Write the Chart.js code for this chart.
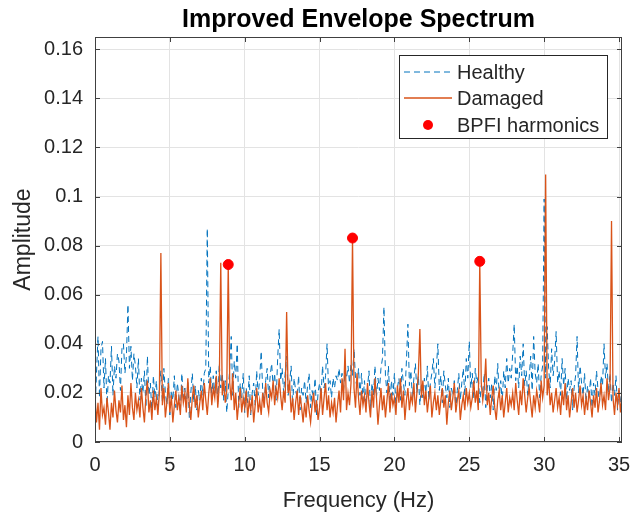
<!DOCTYPE html>
<html>
<head>
<meta charset="utf-8">
<script src="https://cdn.jsdelivr.net/npm/chart.js@4"></script>
<style>
  html, body { margin: 0; padding: 0; background: #fff; }
  canvas { display: block; }
</style>
</head>
<body>
<canvas id="c" width="643" height="514"></canvas>
<script>
// spectrum, one value every 0.1 Hz (0 .. 35.2 Hz)
const freqStep = 0.1;

const healthy = [
  0.012, 0.028, 0.043, 0.018, 0.038, 0.041, 0.022, 0.034, 0.015, 0.027, // 0
  0.024, 0.039, 0.019, 0.031, 0.026, 0.036, 0.033, 0.021, 0.038, 0.040, // 1
  0.028, 0.035, 0.056, 0.030, 0.039, 0.025, 0.036, 0.031, 0.022, 0.034, // 2
  0.017, 0.026, 0.020, 0.029, 0.014, 0.035, 0.019, 0.024, 0.012, 0.027, // 3
  0.018, 0.025, 0.013, 0.022, 0.029, 0.016, 0.030, 0.020, 0.015, 0.026, // 4
  0.011, 0.021, 0.017, 0.027, 0.014, 0.024, 0.019, 0.012, 0.028, 0.018, // 5
  0.022, 0.014, 0.025, 0.010, 0.020, 0.028, 0.016, 0.023, 0.013, 0.021, // 6
  0.017, 0.026, 0.019, 0.028, 0.030, 0.087, 0.024, 0.031, 0.018, 0.027, // 7
  0.020, 0.029, 0.015, 0.032, 0.022, 0.028, 0.017, 0.025, 0.012, 0.021, // 8
  0.030, 0.043, 0.019, 0.033, 0.026, 0.040, 0.014, 0.024, 0.018, 0.028, // 9
  0.012, 0.022, 0.016, 0.027, 0.011, 0.020, 0.024, 0.015, 0.029, 0.019, // 10
  0.026, 0.037, 0.021, 0.016, 0.025, 0.030, 0.018, 0.027, 0.032, 0.022, // 11
  0.028, 0.017, 0.034, 0.046, 0.025, 0.030, 0.020, 0.028, 0.035, 0.019, // 12
  0.024, 0.031, 0.015, 0.026, 0.021, 0.018, 0.027, 0.013, 0.022, 0.019, // 13
  0.025, 0.016, 0.023, 0.028, 0.014, 0.021, 0.018, 0.026, 0.011, 0.020, // 14
  0.024, 0.019, 0.031, 0.022, 0.027, 0.040, 0.021, 0.025, 0.018, 0.026, // 15
  0.022, 0.027, 0.025, 0.030, 0.024, 0.028, 0.021, 0.029, 0.026, 0.031, // 16
  0.024, 0.032, 0.027, 0.038, 0.026, 0.022, 0.030, 0.019, 0.028, 0.017, // 17
  0.025, 0.015, 0.022, 0.029, 0.013, 0.024, 0.019, 0.031, 0.018, 0.026, // 18
  0.021, 0.030, 0.034, 0.055, 0.027, 0.020, 0.031, 0.016, 0.025, 0.019, // 19
  0.028, 0.014, 0.022, 0.026, 0.017, 0.030, 0.024, 0.019, 0.033, 0.048, // 20
  0.023, 0.029, 0.018, 0.026, 0.032, 0.020, 0.027, 0.015, 0.024, 0.018, // 21
  0.026, 0.020, 0.031, 0.017, 0.024, 0.028, 0.034, 0.022, 0.030, 0.040, // 22
  0.021, 0.027, 0.016, 0.029, 0.023, 0.018, 0.026, 0.014, 0.022, 0.019, // 23
  0.025, 0.013, 0.021, 0.028, 0.017, 0.024, 0.030, 0.019, 0.034, 0.026, // 24
  0.041, 0.022, 0.028, 0.018, 0.030, 0.024, 0.027, 0.016, 0.023, 0.020, // 25
  0.028, 0.014, 0.022, 0.026, 0.018, 0.024, 0.013, 0.027, 0.021, 0.032, // 26
  0.018, 0.025, 0.016, 0.029, 0.022, 0.034, 0.024, 0.030, 0.026, 0.036, // 27
  0.048, 0.025, 0.031, 0.022, 0.035, 0.027, 0.040, 0.023, 0.029, 0.019, // 28
  0.026, 0.035, 0.021, 0.043, 0.028, 0.024, 0.032, 0.018, 0.027, 0.031, // 29
  0.099, 0.026, 0.047, 0.030, 0.022, 0.038, 0.027, 0.033, 0.045, 0.024, // 30
  0.029, 0.019, 0.034, 0.023, 0.030, 0.017, 0.026, 0.021, 0.025, 0.013, // 31
  0.022, 0.027, 0.043, 0.020, 0.031, 0.024, 0.019, 0.028, 0.016, 0.023, // 32
  0.018, 0.026, 0.014, 0.024, 0.019, 0.029, 0.021, 0.016, 0.027, 0.023, // 33
  0.040, 0.026, 0.032, 0.020, 0.028, 0.016, 0.024, 0.019, 0.027, 0.013, // 34
  0.021, 0.017, 0.012                                                   // 35
];

const damaged = [
  0.019, 0.008, 0.016, 0.005, 0.022, 0.011, 0.014, 0.007, 0.018, 0.012, // 0
  0.005, 0.016, 0.010, 0.021, 0.013, 0.008, 0.017, 0.012, 0.023, 0.009, // 1
  0.015, 0.006, 0.019, 0.011, 0.024, 0.014, 0.009, 0.020, 0.013, 0.017, // 2
  0.010, 0.022, 0.014, 0.008, 0.019, 0.025, 0.012, 0.017, 0.009, 0.021, // 3
  0.013, 0.018, 0.011, 0.020, 0.077, 0.015, 0.022, 0.010, 0.016, 0.024, // 4
  0.012, 0.019, 0.008, 0.015, 0.021, 0.013, 0.018, 0.011, 0.023, 0.016, // 5
  0.020, 0.012, 0.026, 0.015, 0.009, 0.018, 0.023, 0.014, 0.019, 0.010, // 6
  0.016, 0.021, 0.013, 0.024, 0.017, 0.011, 0.020, 0.026, 0.015, 0.022, // 7
  0.018, 0.027, 0.014, 0.023, 0.073, 0.019, 0.025, 0.016, 0.021, 0.0723, // 8
  0.024, 0.017, 0.028, 0.013, 0.020, 0.009, 0.016, 0.022, 0.012, 0.018, // 9
  0.014, 0.021, 0.010, 0.017, 0.013, 0.019, 0.008, 0.015, 0.022, 0.012, // 10
  0.017, 0.011, 0.020, 0.014, 0.024, 0.016, 0.012, 0.021, 0.018, 0.025, // 11
  0.015, 0.022, 0.018, 0.026, 0.019, 0.013, 0.021, 0.016, 0.053, 0.020, // 12
  0.024, 0.012, 0.018, 0.009, 0.016, 0.021, 0.011, 0.019, 0.014, 0.008, // 13
  0.016, 0.010, 0.019, 0.013, 0.008, 0.015, 0.020, 0.012, 0.017, 0.009, // 14
  0.014, 0.022, 0.011, 0.018, 0.024, 0.013, 0.019, 0.010, 0.016, 0.012, // 15
  0.018, 0.008, 0.015, 0.021, 0.012, 0.026, 0.017, 0.038, 0.013, 0.020, // 16
  0.015, 0.024, 0.0831, 0.022, 0.014, 0.028, 0.018, 0.011, 0.021, 0.015, // 17
  0.019, 0.012, 0.024, 0.016, 0.010, 0.021, 0.014, 0.026, 0.018, 0.007, // 18
  0.015, 0.022, 0.013, 0.019, 0.010, 0.017, 0.024, 0.012, 0.020, 0.015, // 19
  0.018, 0.011, 0.023, 0.016, 0.026, 0.014, 0.021, 0.009, 0.017, 0.022, // 20
  0.013, 0.019, 0.016, 0.024, 0.012, 0.020, 0.028, 0.046, 0.018, 0.025, // 21
  0.015, 0.021, 0.012, 0.018, 0.023, 0.010, 0.016, 0.020, 0.013, 0.019, // 22
  0.011, 0.017, 0.022, 0.014, 0.019, 0.007, 0.016, 0.021, 0.013, 0.018, // 23
  0.024, 0.012, 0.017, 0.021, 0.009, 0.015, 0.019, 0.013, 0.022, 0.016, // 24
  0.020, 0.014, 0.018, 0.025, 0.016, 0.021, 0.013, 0.0736, 0.024, 0.017, // 25
  0.022, 0.034, 0.015, 0.020, 0.011, 0.018, 0.023, 0.014, 0.009, 0.017, // 26
  0.021, 0.013, 0.019, 0.010, 0.016, 0.022, 0.012, 0.018, 0.015, 0.020, // 27
  0.013, 0.024, 0.017, 0.011, 0.021, 0.015, 0.026, 0.019, 0.012, 0.018, // 28
  0.022, 0.016, 0.010, 0.019, 0.014, 0.021, 0.017, 0.012, 0.025, 0.018, // 29
  0.023, 0.109, 0.019, 0.026, 0.015, 0.020, 0.012, 0.017, 0.022, 0.014, // 30
  0.018, 0.011, 0.021, 0.015, 0.024, 0.013, 0.019, 0.010, 0.016, 0.022, // 31
  0.014, 0.020, 0.012, 0.017, 0.023, 0.015, 0.019, 0.011, 0.018, 0.013, // 32
  0.021, 0.016, 0.010, 0.019, 0.014, 0.022, 0.012, 0.017, 0.024, 0.015, // 33
  0.019, 0.013, 0.026, 0.017, 0.022, 0.090, 0.018, 0.011, 0.020, 0.015, // 34
  0.022, 0.012, 0.018                                                   // 35
];

const bpfiFreq = [8.9, 17.2, 25.7];
const bpfiAmp  = [0.0723, 0.0831, 0.0736];

const xTicks = [0, 5, 10, 15, 20, 25, 30, 35];
const yTicks = [0, 0.02, 0.04, 0.06, 0.08, 0.1, 0.12, 0.14, 0.16];
const xMax = 35.2, yMax = 0.165;
const chartTitle = 'Improved Envelope Spectrum';

const freq = healthy.map((_, i) => +(i * freqStep).toFixed(1));
const txt = '#262626';
const fam = 'Arial, "Liberation Sans", Helvetica, sans-serif';

// MATLAB-like box, inward ticks, title over the axes and legend
const boxPlugin = {
  id: 'box',
  afterDatasetsDraw(chart) {
    const {ctx, chartArea: a, scales: {x, y}} = chart;
    ctx.save();
    ctx.strokeStyle = '#404040';
    ctx.lineWidth = 1;
    ctx.beginPath();
    xTicks.forEach(v => {
      const px = Math.round(x.getPixelForValue(v)) + 0.5;
      ctx.moveTo(px, a.bottom); ctx.lineTo(px, a.bottom - 5);
      ctx.moveTo(px, a.top); ctx.lineTo(px, a.top + 5);
    });
    yTicks.forEach(v => {
      const py = Math.round(y.getPixelForValue(v)) + 0.5;
      ctx.moveTo(a.left, py); ctx.lineTo(a.left + 5, py);
      ctx.moveTo(a.right, py); ctx.lineTo(a.right - 5, py);
    });
    ctx.stroke();
    ctx.strokeRect(Math.round(a.left) + 0.5, Math.round(a.top) + 0.5,
                   Math.round(a.width) - 1, Math.round(a.height) - 1);

    // title, centred over the axes like MATLAB
    ctx.fillStyle = '#000';
    ctx.font = 'bold 25px ' + fam;
    ctx.textAlign = 'center';
    ctx.textBaseline = 'middle';
    ctx.fillText(chartTitle, (a.left + a.right) / 2, 20);

    // legend
    const bx = a.right - 223, by = a.top + 18, bw = 208, bh = 83;
    ctx.fillStyle = '#fff';
    ctx.fillRect(bx, by, bw, bh);
    ctx.strokeStyle = '#262626';
    ctx.strokeRect(bx + 0.5, by + 0.5, bw, bh);
    const ds = chart.data.datasets;
    const rows = [by + 17, by + 43, by + 70];
    ctx.font = '20px ' + fam;
    ctx.textBaseline = 'middle';
    ctx.textAlign = 'left';
    [1, 2, 0].forEach((di, r) => {
      const d = ds[di];
      const ry = rows[r];
      if (d.type === 'scatter') {
        ctx.fillStyle = d.backgroundColor;
        ctx.beginPath(); ctx.arc(bx + 29, ry, 5, 0, Math.PI * 2); ctx.fill();
      } else {
        ctx.strokeStyle = d.borderColor;
        ctx.lineWidth = d.borderWidth;
        ctx.setLineDash(d.borderDash || []);
        ctx.beginPath(); ctx.moveTo(bx + 5, ry); ctx.lineTo(bx + 53, ry); ctx.stroke();
        ctx.setLineDash([]);
      }
      ctx.fillStyle = txt;
      ctx.fillText(d.label, bx + 58, ry + 1);
    });
    ctx.restore();
  }
};

new Chart(document.getElementById('c'), {
  type: 'line',
  data: {
    datasets: [
      {
        type: 'scatter', label: 'BPFI harmonics', order: 0,
        data: bpfiFreq.map((f, i) => ({x: f, y: bpfiAmp[i]})),
        backgroundColor: '#FF0000', borderColor: '#FF0000',
        pointRadius: 5, pointHoverRadius: 5
      },
      {
        label: 'Healthy', order: 2,
        data: freq.map((f, i) => ({x: f, y: healthy[i]})),
        borderColor: '#0072BD', borderWidth: 1, borderDash: [6, 4],
        pointRadius: 0, tension: 0, fill: false
      },
      {
        label: 'Damaged', order: 1,
        data: freq.map((f, i) => ({x: f, y: damaged[i]})),
        borderColor: '#D95319', borderWidth: 1.3,
        pointRadius: 0, tension: 0, fill: false
      }
    ]
  },
  options: {
    responsive: false,
    animation: false,
    layout: { padding: { left: 0, right: 21, top: 37, bottom: 0 } },
    plugins: {
      legend: { display: false },
      tooltip: { enabled: false },
      title: { display: false }
    },
    scales: {
      x: {
        type: 'linear', min: 0, max: xMax,
        afterFit: s => { s.height = 72; },
        afterBuildTicks: s => { s.ticks = xTicks.map(v => ({value: v})); },
        grid: { color: '#e3e3e3', drawTicks: false },
        border: { display: false },
        ticks: { color: txt, padding: 11, font: { family: fam, size: 20 }, maxRotation: 0 },
        title: { display: true, text: 'Frequency (Hz)', color: txt,
                 font: { family: fam, size: 22 }, padding: { top: 2, bottom: 0 } }
      },
      y: {
        type: 'linear', min: 0, max: yMax,
        afterFit: s => { s.width = 95; },
        afterBuildTicks: s => { s.ticks = yTicks.map(v => ({value: v})); },
        grid: { color: '#e3e3e3', drawTicks: false },
        border: { display: false },
        ticks: { color: txt, padding: 12, font: { family: fam, size: 20 },
                 callback: v => String(+v.toFixed(2)) },
        title: { display: true, text: 'Amplitude', color: txt,
                 font: { family: fam, size: 23 }, padding: { top: 10, bottom: 0 } }
      }
    }
  },
  plugins: [boxPlugin]
});
</script>
</body>
</html>
